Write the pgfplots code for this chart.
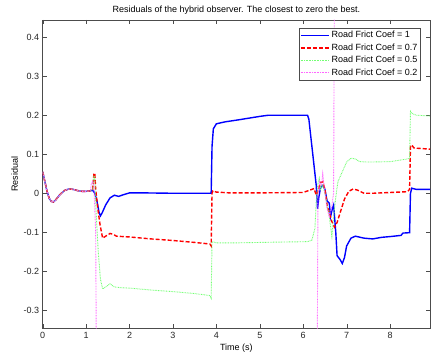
\documentclass[border=0pt]{standalone}
\usepackage{fontspec}
\setmainfont{Liberation Sans}
\usepackage{pgfplots}
\pgfplotsset{compat=1.18}
\begin{document}
\begin{tikzpicture}
\begin{axis}[
  name=ax,
  scale only axis,
  width=387.3pt, height=308.3pt,
  xmin=0, xmax=8.92, ymin=-0.346, ymax=0.444,
  xtick={0,1,...,8},
  ytick={-0.3,-0.2,-0.1,0,0.1,0.2,0.3,0.4},
  yticklabels={-0.3,-0.2,-0.1,0,0.1,0.2,0.3,0.4},
  xticklabels={0,1,2,3,4,5,6,7,8},
  tick align=inside,
  major tick length=4pt,
  axis line style={black!70},
  tick style={black!70},
  ticklabel style={font=\fontsize{9}{10}\selectfont, text=black!85},
  /pgf/number format/assume math mode=true,
  title={Residuals of the hybrid observer. The closest to zero the best.},
  title style={font=\fontsize{9}{10}\selectfont, at={(axis description cs:0.5,1.0325)}, anchor=center, yshift=-6pt},
  xlabel={Time (s)},
  ylabel={Residual},
  label style={font=\fontsize{9}{10}\selectfont},
  xlabel style={at={(axis description cs:0.5,-0.0649)}, anchor=center},
  ylabel style={at={(axis description cs:-0.0723,0.5)}, anchor=center},
  legend style={at={(axis description cs:0.976,0.974)}, anchor=north east,
    font=\fontsize{9}{10}\selectfont, draw=black!70, inner sep=1.2pt,
    row sep=0.4pt, cells={anchor=west}},
  legend image code/.code={\draw[#1] (0pt,0pt) -- (28pt,0pt);},
  clip=true,
]
\addplot[blue, line width=1.4pt] coordinates {
(0,0.055) (0.05,0.03) (0.1,0.005) (0.15,-0.013) (0.2,-0.021) (0.25,-0.022) (0.3,-0.017) (0.4,-0.003) (0.5,0.007) (0.6,0.011) (0.7,0.01) (0.8,0.007) (0.9,0.005) (1.0,0.005) (1.1,0.006)
(1.15,0.008) (1.2,0.0) (1.25,-0.02) (1.3,-0.05) (1.33,-0.058) (1.37,-0.05) (1.45,-0.03) (1.55,-0.012) (1.65,-0.005) (1.75,-0.008) (1.85,-0.004) (2.0,0.001) (2.3,0.001) (3.0,0) (3.88,0) (3.9,0.12) (3.93,0.165) (4.0,0.178) (4.2,0.183) (4.5,0.188) (5.0,0.197) (5.2,0.2) (6.1,0.2) (6.13,0.19) (6.3,0.02) (6.33,-0.04) (6.36,-0.01) (6.4,0.015) (6.45,0.02) (6.5,0.01) (6.55,-0.02) (6.6,-0.025) (6.63,-0.06) (6.67,-0.04) (6.7,-0.03) (6.75,-0.1) (6.78,-0.16) (6.85,-0.17) (6.9,-0.18) (6.95,-0.165) (7.0,-0.135) (7.1,-0.115) (7.2,-0.11) (7.4,-0.115) (7.6,-0.117) (7.8,-0.113) (8.0,-0.111) (8.25,-0.108) (8.3,-0.102) (8.45,-0.101) (8.47,0.0) (8.5,0.013) (8.6,0.01) (8.92,0.01)
};
\addlegendentry{Road Frict Coef = 1}
\addplot[red, line width=1.4pt, dash pattern=on 4pt off 2pt] coordinates {
(0,0.055) (0.05,0.03) (0.1,0.005) (0.15,-0.013) (0.2,-0.021) (0.25,-0.022) (0.3,-0.017) (0.4,-0.003) (0.5,0.007) (0.6,0.011) (0.7,0.01) (0.8,0.007) (0.9,0.005) (1.0,0.005) (1.1,0.006)
(1.15,0.01) (1.18,0.05) (1.2,0.052) (1.22,0.01) (1.27,-0.04) (1.32,-0.08) (1.38,-0.115) (1.45,-0.11) (1.55,-0.103) (1.62,-0.105) (1.7,-0.11) (2.0,-0.112) (2.5,-0.117) (3.0,-0.121) (3.5,-0.126) (3.85,-0.13) (3.88,-0.135) (3.9,0.0) (3.92,0.006) (4.0,0.003) (4.3,0.001) (5.0,0.001) (6.0,0.002) (6.2,0.01) (6.25,0.012) (6.3,-0.005) (6.35,0.01) (6.4,0.028) (6.45,0.03) (6.5,0.01) (6.55,-0.03) (6.6,-0.05) (6.65,-0.07) (6.72,-0.087) (6.78,-0.075) (6.85,-0.05) (6.95,-0.015) (7.05,0.005) (7.15,0.011) (7.25,0.008) (7.4,0.0) (7.6,0.0) (8.0,0.002) (8.4,0.004) (8.45,0.01) (8.47,0.12) (8.5,0.124) (8.55,0.116) (8.92,0.113)
};
\addlegendentry{Road Frict Coef = 0.7}
\addplot[color={rgb,1:red,0.45;green,1;blue,0.45}, line width=0.9pt, dash pattern=on 0.8pt off 0.8pt] coordinates {
(0,0.055) (0.05,0.03) (0.1,0.005) (0.15,-0.013) (0.2,-0.021) (0.25,-0.022) (0.3,-0.017) (0.4,-0.003) (0.5,0.007) (0.6,0.011) (0.7,0.01) (0.8,0.007) (0.9,0.005) (1.0,0.005) (1.1,0.006)
(1.15,0.01) (1.18,0.045) (1.2,0.04) (1.23,-0.05) (1.28,-0.15) (1.33,-0.22) (1.38,-0.245) (1.45,-0.24) (1.55,-0.232) (1.65,-0.24) (1.8,-0.242) (2.0,-0.243) (2.5,-0.248) (3.0,-0.252) (3.5,-0.257) (3.85,-0.262) (3.88,-0.269) (3.9,-0.124) (4.0,-0.127) (4.5,-0.127) (5.0,-0.126) (5.5,-0.125) (6.1,-0.124) (6.2,-0.12) (6.27,-0.09) (6.3,-0.02) (6.33,0.02) (6.37,0.038) (6.4,0.01) (6.45,0.02) (6.5,0.0) (6.55,-0.03) (6.6,-0.06) (6.66,-0.11) (6.7,-0.06) (6.75,-0.01) (6.8,0.03) (6.9,0.055) (7.0,0.08) (7.1,0.09) (7.2,0.088) (7.3,0.081) (7.5,0.08) (8.0,0.081) (8.4,0.088) (8.45,0.09) (8.47,0.21) (8.5,0.205) (8.6,0.2) (8.92,0.198)
};
\addlegendentry{Road Frict Coef = 0.5}
\addplot[color={rgb,1:red,1;green,0.4;blue,1}, line width=0.9pt, dash pattern=on 0.8pt off 0.8pt] coordinates {
(0,0.055) (0.05,0.03) (0.1,0.005) (0.15,-0.013) (0.2,-0.021) (0.25,-0.022) (0.3,-0.017) (0.4,-0.003) (0.5,0.007) (0.6,0.011) (0.7,0.01) (0.8,0.007) (0.9,0.005) (1.0,0.005) (1.1,0.006)
(1.12,0.025) (1.15,0.03) (1.18,0.02) (1.22,-0.1) (1.24,-0.5) (6.32,-0.5) (6.34,0.0) (6.38,0.03) (6.42,0.02) (6.45,0.05) (6.5,0.0) (6.55,-0.04) (6.6,-0.06) (6.65,-0.04) (6.7,0.0) (6.72,0.6) (8.92,0.6)
};
\addlegendentry{Road Frict Coef = 0.2}
\end{axis}
\pgfresetboundingbox
\useasboundingbox ([xshift=-42.7pt,yshift=-25.7pt]ax.south west) rectangle ([xshift=1pt,yshift=20pt]ax.north east);
\end{tikzpicture}
\end{document}
